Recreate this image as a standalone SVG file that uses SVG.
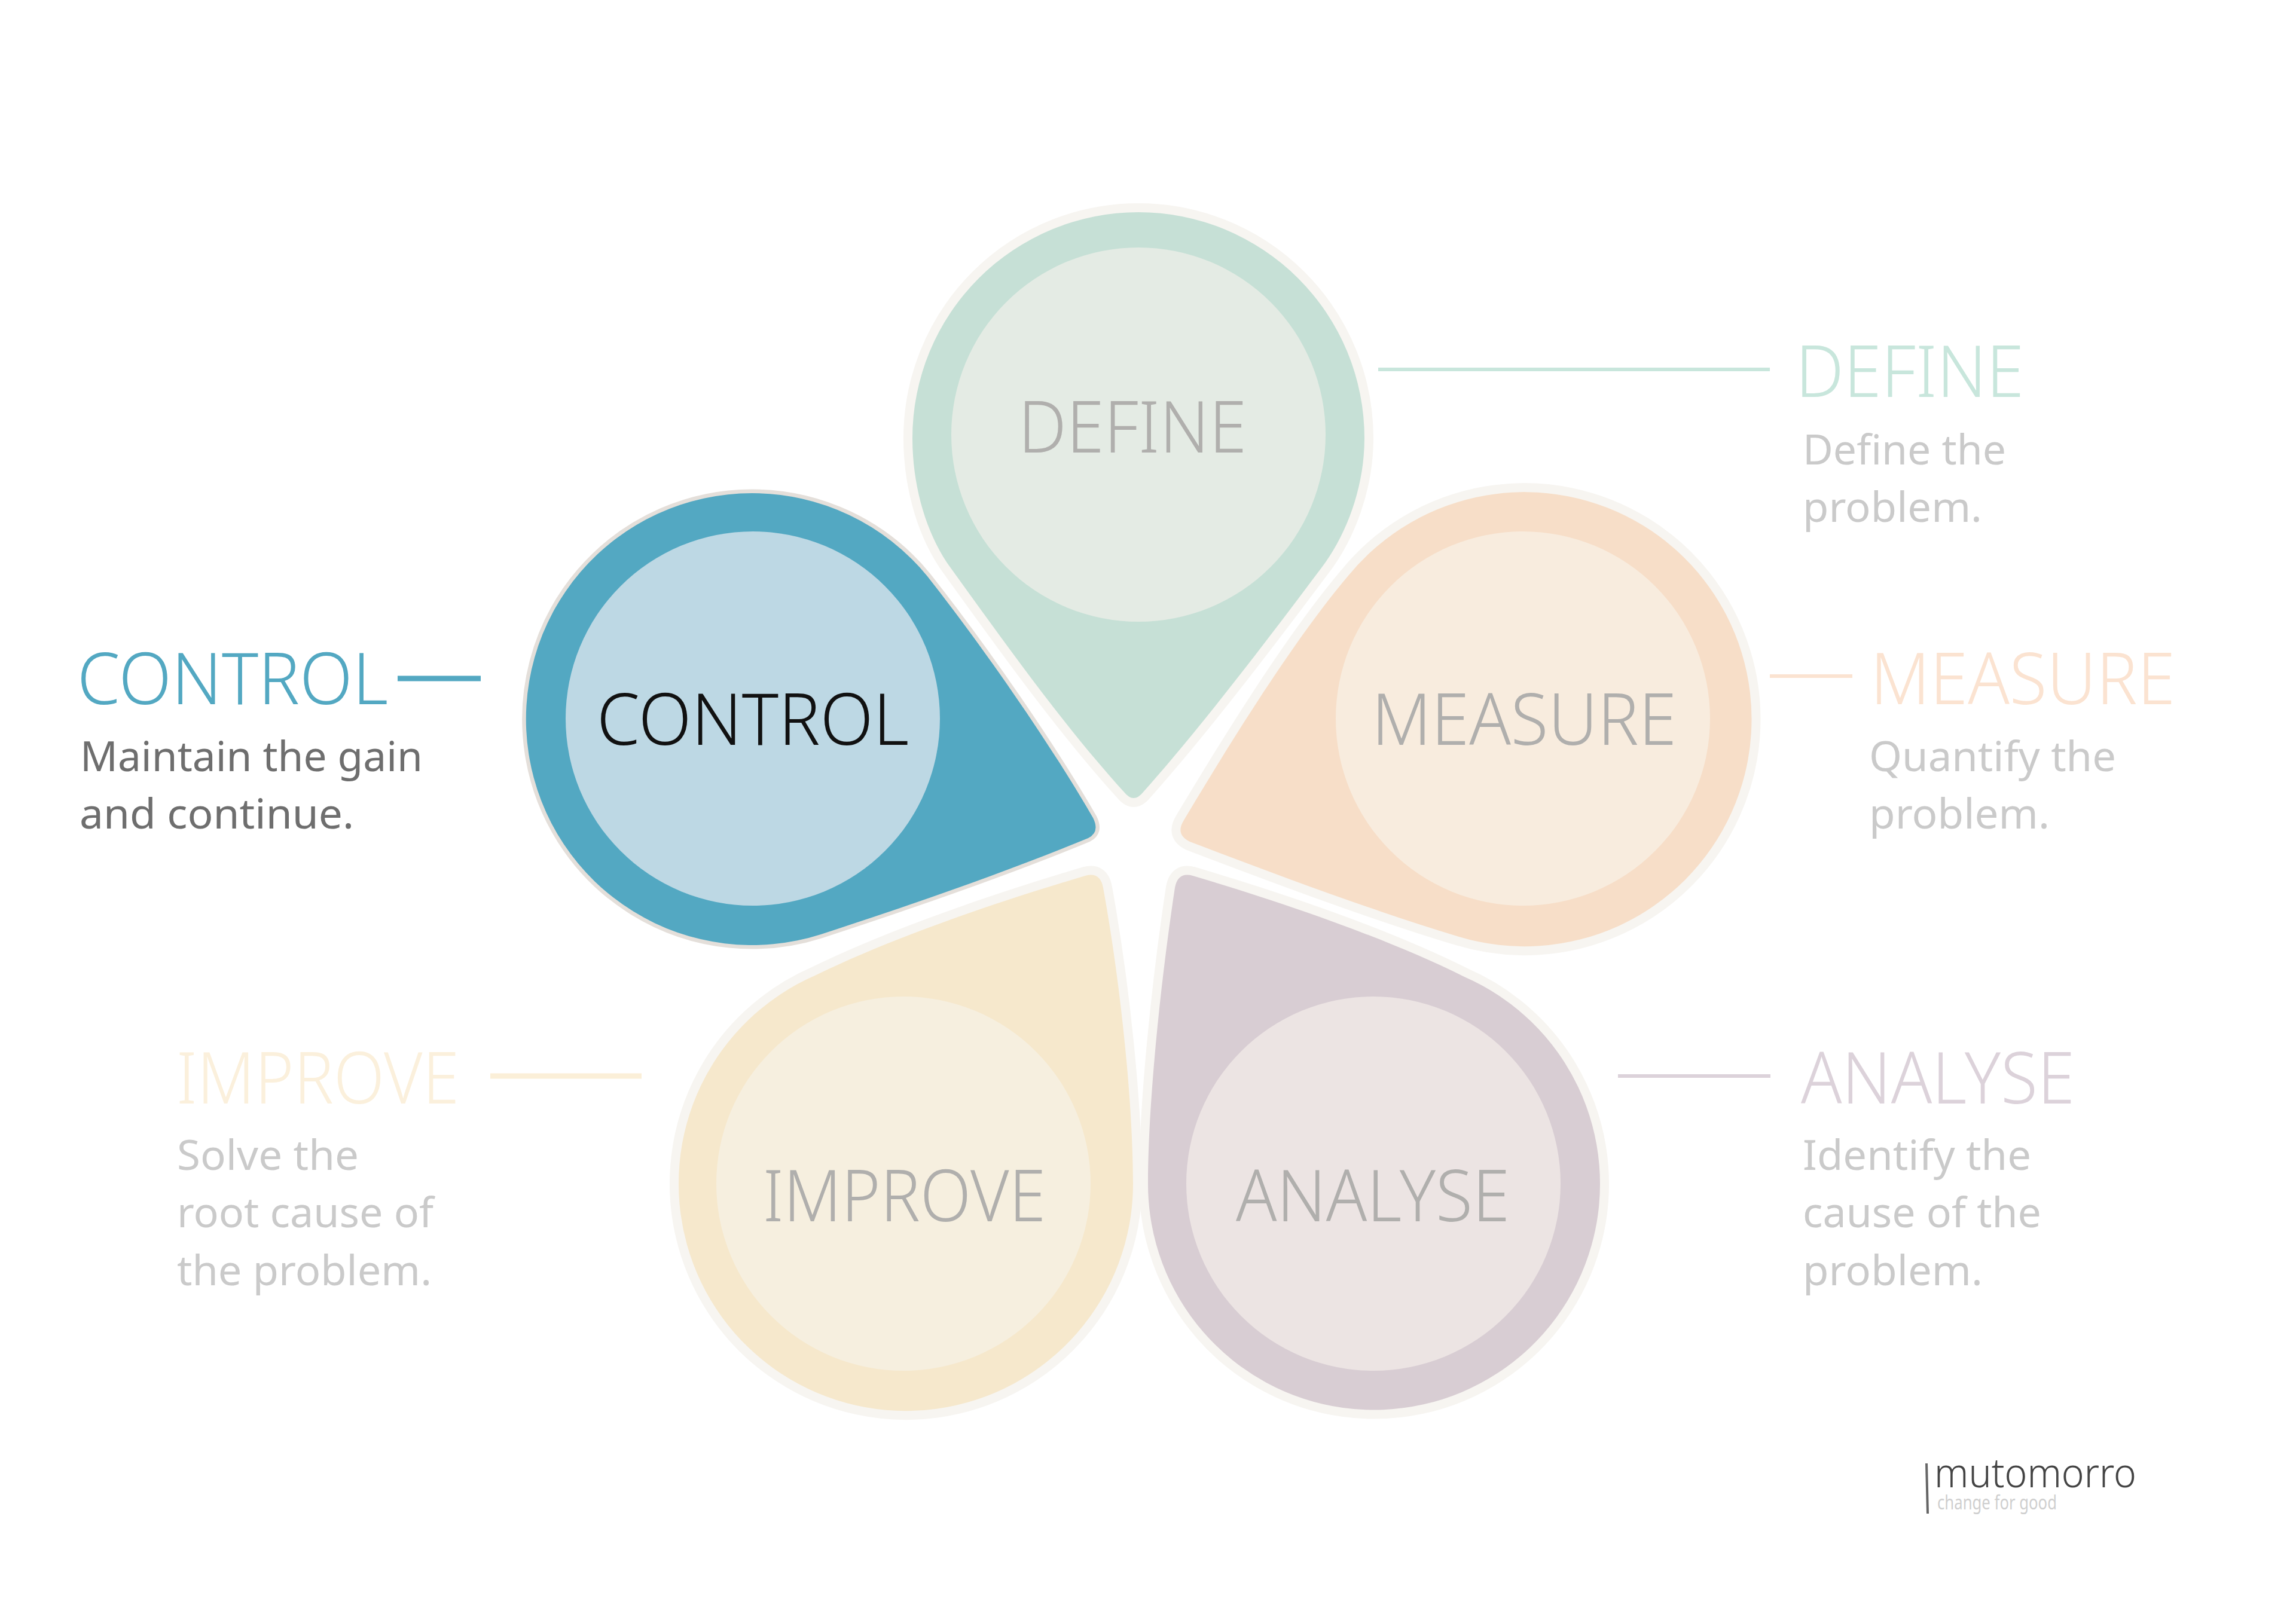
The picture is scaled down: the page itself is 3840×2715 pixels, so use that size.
<svg xmlns="http://www.w3.org/2000/svg" width="3840" height="2715" viewBox="0 0 3840 2715">
<style>
text{font-family:"Noto Sans","Liberation Sans",sans-serif}
.petal{stroke:#F7F5F1;stroke-width:30;stroke-linejoin:round;paint-order:stroke}
.big{font-size:120px;font-weight:300}
.in{fill:#B0AFAD}
.d{font-size:69px;font-weight:400;fill:#CACACA}
.ln{fill:none;stroke-width:6}
</style>
<rect width="3840" height="2715" fill="#fff"/>
<g id="connectors">
<path class="ln" stroke="#C8E6DC" d="M2305 618H2960"/>
<path class="ln" stroke="#FBE3D1" d="M2960 1131H3098"/>
<path class="ln" stroke="#53A8C2" style="stroke-width:9" d="M665 1135H804"/>
<path class="ln" stroke="#FBEFD8" style="stroke-width:9" d="M820 1800H1073"/>
<path class="ln" stroke="#DCD2DA" d="M2706 1800H2961"/>
</g>
<g id="node-define">
<path class="petal" fill="#C6E0D6" d="M1526 733A378 378 0 0 1 2282 733C2282 815 2252 895 2210 950C2120 1070 2010 1215 1912 1325Q1896 1345 1880 1325C1780 1215 1680 1075 1590 950C1550 895 1526 815 1526 733Z"/>
<circle cx="1904" cy="727" r="313" fill="#E4EBE4"/>
<text class="big in" x="1703" y="757" textLength="382" lengthAdjust="spacingAndGlyphs">DEFINE</text>
<text class="big" fill="#C8E6DC" x="3003" y="664" textLength="382" lengthAdjust="spacingAndGlyphs">DEFINE</text>
<text class="d" x="3015" y="777" textLength="340" lengthAdjust="spacingAndGlyphs">Define the</text>
<text class="d" x="3015" y="873" textLength="300" lengthAdjust="spacingAndGlyphs">problem.</text>
</g>
<g id="node-measure">
<path class="petal" fill="#F7DEC8" d="M2255 963A380 380 0 1 1 2440 1567C2300 1525 2140 1465 1990 1408Q1965 1396 1980 1372C2050 1255 2160 1075 2255 963Z"/>
<circle cx="2547" cy="1202" r="313" fill="#F8ECDE"/>
<text class="big in" x="2294" y="1246" textLength="510" lengthAdjust="spacingAndGlyphs">MEASURE</text>
<text class="big" fill="#FBE3D1" x="3128" y="1178" textLength="510" lengthAdjust="spacingAndGlyphs">MEASURE</text>
<text class="d" x="3126" y="1290" textLength="413" lengthAdjust="spacingAndGlyphs">Quantify the</text>
<text class="d" x="3126" y="1386" textLength="302" lengthAdjust="spacingAndGlyphs">problem.</text>
</g>
<g id="node-analyse">
<path class="petal" fill="#D8CDD3" d="M1920 1980C1920 1850 1940 1650 1965 1485Q1970 1458 1995 1465C2130 1505 2310 1565 2449 1634A378 378 0 1 1 1920 1980Z"/>
<circle cx="2297" cy="1980" r="313" fill="#ECE4E3"/>
<text class="big in" x="2067" y="2043" textLength="458" lengthAdjust="spacingAndGlyphs">ANALYSE</text>
<text class="big" fill="#DCD2DA" x="3012" y="1846" textLength="458" lengthAdjust="spacingAndGlyphs">ANALYSE</text>
<text class="d" x="3015" y="1957" textLength="382" lengthAdjust="spacingAndGlyphs">Identify the</text>
<text class="d" x="3015" y="2053" textLength="399" lengthAdjust="spacingAndGlyphs">cause of the</text>
<text class="d" x="3015" y="2150" textLength="301" lengthAdjust="spacingAndGlyphs">problem.</text>
</g>
<g id="node-improve">
<path class="petal" fill="#F6E8CC" d="M1365 1631C1500 1565 1680 1505 1815 1465Q1840 1458 1845 1485C1875 1650 1895 1850 1895 1980A380 380 0 1 1 1365 1631Z"/>
<circle cx="1511" cy="1980" r="313" fill="#F6EFDF"/>
<text class="big in" x="1276" y="2043" textLength="473" lengthAdjust="spacingAndGlyphs">IMPROVE</text>
<text class="big" fill="#FBF0DC" x="295" y="1846" textLength="473" lengthAdjust="spacingAndGlyphs">IMPROVE</text>
<text class="d" x="296" y="1957" textLength="304" lengthAdjust="spacingAndGlyphs">Solve the</text>
<text class="d" x="296" y="2053" textLength="429" lengthAdjust="spacingAndGlyphs">root cause of</text>
<text class="d" x="296" y="2150" textLength="426" lengthAdjust="spacingAndGlyphs">the problem.</text>
</g>
<g id="node-control">
<path class="petal" style="stroke:#E4DFDA;stroke-width:13" fill="#53A8C2" d="M1258 825A378 378 0 0 1 1551 964C1650 1090 1760 1250 1828 1368Q1840 1392 1820 1402C1680 1460 1520 1515 1373 1563A378 378 0 1 1 1258 825Z"/>
<circle cx="1259" cy="1202" r="313" fill="#BDD8E4"/>
<text class="big" fill="#111" x="998" y="1246" textLength="522" lengthAdjust="spacingAndGlyphs">CONTROL</text>
<text class="big" fill="#53A8C2" x="129" y="1178" textLength="520" lengthAdjust="spacingAndGlyphs">CONTROL</text>
<text class="d" style="fill:#6E6E6E" x="134" y="1290" textLength="573" lengthAdjust="spacingAndGlyphs">Maintain the gain</text>
<text class="d" style="fill:#6E6E6E" x="133" y="1386" textLength="459" lengthAdjust="spacingAndGlyphs">and continue.</text>
</g>
<g id="logo">
<path d="M3222 2448L3224 2532" stroke="#666" stroke-width="4" fill="none"/>
<text x="3235" y="2488" font-size="68" font-weight="300" fill="#444" textLength="338" lengthAdjust="spacingAndGlyphs">mutomorro</text>
<text x="3240" y="2525" font-size="32" fill="#CFCFCF" textLength="200" lengthAdjust="spacingAndGlyphs">change for good</text>
</g>
</svg>
